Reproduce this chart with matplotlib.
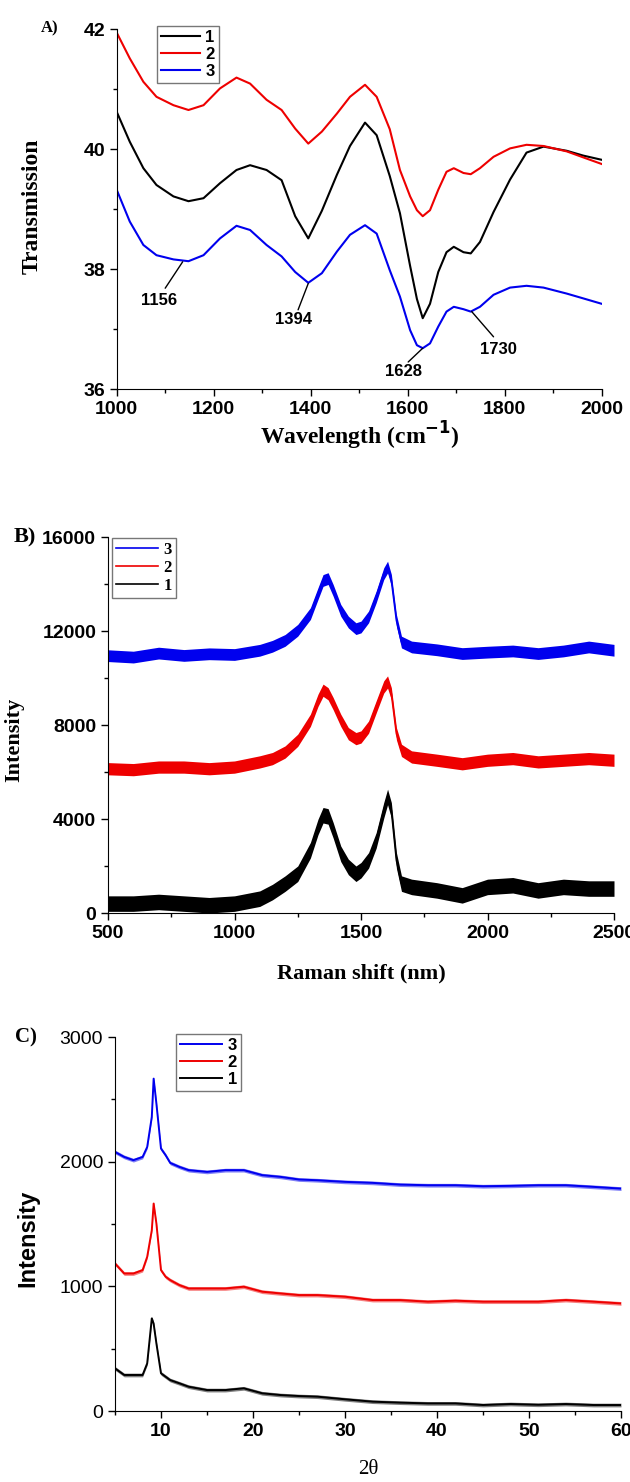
import os
os.environ["MPLBACKEND"] = "Agg"

import numpy as np
import matplotlib.pyplot as plt
from matplotlib.ticker import MultipleLocator

SANS = "Liberation Sans"
SERIF = "Liberation Serif"

# ---- A) FTIR ----
ir_x = [1000, 1027, 1055, 1082, 1117, 1148, 1179, 1213, 1247, 1275, 1309, 1340, 1368,
        1395, 1423, 1454, 1481, 1512, 1536, 1563, 1584, 1605, 1619, 1631, 1646, 1663,
        1680, 1695, 1715, 1730, 1749, 1777, 1811, 1845, 1880, 1928, 1962, 2000]
ir_1 = [40.62, 40.12, 39.68, 39.40, 39.21, 39.13, 39.18, 39.43, 39.65, 39.73, 39.65, 39.48, 38.88,
        38.51, 38.97, 39.57, 40.05, 40.44, 40.23, 39.55, 38.93, 38.05, 37.50, 37.18, 37.42, 37.95,
        38.28, 38.37, 38.28, 38.26, 38.45, 38.95, 39.49, 39.94, 40.04, 39.97, 39.89, 39.82]
ir_2 = [41.94, 41.51, 41.12, 40.87, 40.73, 40.65, 40.73, 41.01, 41.19, 41.09, 40.82, 40.65, 40.34,
        40.09, 40.29, 40.59, 40.87, 41.07, 40.87, 40.33, 39.65, 39.21, 38.98, 38.88, 38.98, 39.32,
        39.62, 39.68, 39.60, 39.58, 39.68, 39.87, 40.01, 40.07, 40.05, 39.96, 39.86, 39.75]
ir_3 = [39.32, 38.79, 38.40, 38.23, 38.16, 38.13, 38.23, 38.51, 38.72, 38.65, 38.40, 38.21, 37.95,
        37.77, 37.93, 38.29, 38.57, 38.73, 38.59, 37.98, 37.54, 36.98, 36.73, 36.68, 36.76, 37.04,
        37.29, 37.37, 37.33, 37.29, 37.37, 37.57, 37.69, 37.72, 37.69, 37.59, 37.51, 37.42]
peak_labels = ["1156", "1394", "1628", "1730"]
peak_pts = [(1136, 38.12), (1395, 37.76), (1631, 36.68), (1732, 37.29)]
peak_end = [(1100, 37.68), (1374, 37.32), (1601, 36.45), (1777, 36.87)]
peak_txt = [(1088, 37.48), (1364, 37.15), (1591, 36.29), (1787, 36.65)]

# ---- B) Raman ----
ra_x = [500, 600, 700, 800, 900, 1000, 1100, 1150, 1200, 1250, 1300, 1330, 1350, 1370,
        1390, 1420, 1450, 1480, 1500, 1530, 1560, 1590, 1605, 1620, 1640, 1660, 1700,
        1800, 1900, 2000, 2100, 2200, 2300, 2400, 2500]
ra_3 = [10950, 10890, 11060, 10960, 11030, 11000, 11180, 11350, 11600, 12030, 12740, 13590,
        14150, 14230, 13730, 12880, 12380, 12100, 12170, 12600, 13450, 14440, 14720, 14160,
        12450, 11530, 11320, 11200, 11040, 11100, 11150, 11040, 11150, 11320, 11180]
ra_2 = [6140, 6100, 6210, 6210, 6140, 6210, 6430, 6570, 6850, 7350, 8200, 9050,
        9480, 9330, 8910, 8200, 7630, 7420, 7490, 7910, 8770, 9620, 9830, 9330,
        7630, 6920, 6640, 6500, 6350, 6500, 6570, 6430, 6500, 6570, 6500]
ra_1 = [400, 400, 470, 400, 330, 400, 610, 890, 1250, 1670, 2670, 3660,
        4160, 4110, 3520, 2520, 1960, 1670, 1820, 2240, 3090, 4370, 4940, 4370,
        2240, 1250, 1110, 960, 750, 1110, 1180, 960, 1110, 1040, 1040]
ra_band = [250, 260, 330]  # half-width of the noise band, series 3, 2, 1

# ---- C) XRD ----
xr_x = [5, 6, 7, 8, 8.5, 9, 9.2, 9.5, 10, 10.5, 11, 12, 13, 15, 17, 19, 21, 23, 25, 27,
        30, 33, 36, 39, 42, 45, 48, 51, 54, 57, 60]
xr_3 = [2078, 2038, 2012, 2038, 2118, 2359, 2666, 2466, 2105, 2052, 1990, 1958, 1932, 1918,
        1932, 1932, 1892, 1878, 1857, 1851, 1838, 1830, 1816, 1811, 1811, 1803, 1806, 1811,
        1811, 1798, 1784]
xr_2 = [1183, 1103, 1103, 1130, 1237, 1450, 1664, 1504, 1130, 1077, 1050, 1010, 983, 983,
        983, 997, 957, 943, 930, 930, 917, 890, 890, 877, 885, 877, 877, 877, 890, 877, 863]
xr_1 = [342, 289, 289, 289, 382, 743, 700, 542, 302, 275, 248, 222, 195, 168, 168, 182,
        142, 128, 120, 115, 94, 75, 67, 61, 61, 48, 56, 50, 56, 48, 48]
xr_band = [15, 15, 15]

W, H = 630, 1482
fig = plt.figure(figsize=(W / 100, H / 100), dpi=100)


def axes_px(l, t, r, b):
    return fig.add_axes([l / W, 1 - b / H, (r - l) / W, (b - t) / H])


def style(ax):
    for s in ["top", "right"]:
        ax.spines[s].set_visible(False)
    ax.tick_params(which="major", direction="out", length=5, width=1)
    ax.tick_params(which="minor", direction="out", length=3, width=1)


def legend(ax, x, y, fam, handlelen):
    ax.legend(loc="upper left", bbox_to_anchor=(x / W, 1 - y / H), bbox_transform=fig.transFigure,
              prop=dict(family=fam, weight="bold", size=12), fancybox=False, edgecolor="#777777",
              handlelength=handlelen, borderpad=0.25, labelspacing=0.1, handletextpad=0.35,
              borderaxespad=0, framealpha=1)


# panel A
ax = axes_px(116.7, 29, 601.7, 389)
ax.plot(ir_x, ir_1, color="black", lw=1.5, label="1")
ax.plot(ir_x, ir_2, color="#ee0000", lw=1.5, label="2")
ax.plot(ir_x, ir_3, color="#0000ee", lw=1.5, label="3")
for lab, p, e, t in zip(peak_labels, peak_pts, peak_end, peak_txt):
    ax.annotate("", xy=p, xytext=e,
                arrowprops=dict(arrowstyle="-", color="black", lw=1, shrinkA=0, shrinkB=0))
    ax.text(t[0], t[1], lab, ha="center", va="center", fontsize=12,
            fontweight="bold", family=SANS)
ax.set_xlim(1000, 2000)
ax.set_ylim(36, 42)
ax.xaxis.set_major_locator(MultipleLocator(200))
ax.xaxis.set_minor_locator(MultipleLocator(100))
ax.yaxis.set_major_locator(MultipleLocator(2))
ax.yaxis.set_minor_locator(MultipleLocator(1))
style(ax)
for t in ax.get_xticklabels() + ax.get_yticklabels():
    t.set_family(SANS); t.set_fontweight("bold"); t.set_fontsize(14)
legend(ax, 157, 26, SANS, 2.3)
fig.text(50 / W, 1 - 28 / H, "A)", family=SERIF, fontweight="bold", fontsize=12, ha="center", va="center")
fig.text(32 / W, 1 - 206 / H, "Transmission", family=SERIF, fontweight="bold", fontsize=17,
         rotation=90, ha="center", va="center")
fig.text(360 / W, 1 - 436 / H, "Wavelength (cm$^{\\mathbf{-1}}$)", family=SERIF, fontweight="bold",
         fontsize=17, ha="center", va="center")

# panel B
ax = axes_px(108, 537, 614, 913)
cols = ["#0000ee", "#ee0000", "black"]
for yv, c, lab, hw in zip([ra_3, ra_2, ra_1], cols, ["3", "2", "1"], ra_band):
    yv = np.array(yv)
    ax.fill_between(ra_x, yv - hw, yv + hw, color=c, lw=0)
    ax.plot(ra_x, yv, color=c, lw=1.2, label=lab)
ax.set_xlim(500, 2500)
ax.set_ylim(0, 16000)
ax.xaxis.set_major_locator(MultipleLocator(500))
ax.xaxis.set_minor_locator(MultipleLocator(250))
ax.yaxis.set_major_locator(MultipleLocator(4000))
ax.yaxis.set_minor_locator(MultipleLocator(2000))
style(ax)
for t in ax.get_xticklabels() + ax.get_yticklabels():
    t.set_family(SANS); t.set_fontweight("bold"); t.set_fontsize(14)
legend(ax, 112, 538, SERIF, 2.5)
fig.text(25 / W, 1 - 537 / H, "B)", family=SERIF, fontweight="bold", fontsize=16, ha="center", va="center")
fig.text(14 / W, 1 - 740 / H, "Intensity", family=SERIF, fontweight="bold", fontsize=16,
         rotation=90, ha="center", va="center")
fig.text(361 / W, 1 - 973 / H, "Raman shift (nm)", family=SERIF, fontweight="bold",
         fontsize=16, ha="center", va="center")

# panel C
ax = axes_px(115, 1037, 621, 1411)
for yv, c, lab, hw in zip([xr_3, xr_2, xr_1], cols, ["3", "2", "1"], xr_band):
    yv = np.array(yv)
    ax.fill_between(xr_x, yv - hw, yv + hw, color=c, lw=0, alpha=0.5)
    ax.plot(xr_x, yv, color=c, lw=1.4, label=lab)
ax.set_xlim(5, 60)
ax.set_ylim(0, 3000)
ax.xaxis.set_major_locator(MultipleLocator(10))
ax.xaxis.set_minor_locator(MultipleLocator(5))
ax.yaxis.set_major_locator(MultipleLocator(1000))
ax.yaxis.set_minor_locator(MultipleLocator(500))
style(ax)
for t in ax.get_xticklabels():
    t.set_family(SANS); t.set_fontweight("bold"); t.set_fontsize(14)
for t in ax.get_yticklabels():
    t.set_family(SANS); t.set_fontsize(14)
legend(ax, 176, 1034, SANS, 2.5)
fig.text(26 / W, 1 - 1037 / H, "C)", family=SERIF, fontweight="bold", fontsize=15, ha="center", va="center")
fig.text(28 / W, 1 - 1238 / H, "Intensity", family=SANS, fontweight="bold", fontsize=17,
         rotation=90, ha="center", va="center")
fig.text(368 / W, 1 - 1470 / H, "2θ", family=SERIF, fontsize=15, ha="center", va="center")

fig.savefig("out.png", dpi=100)
plt.close(fig)
